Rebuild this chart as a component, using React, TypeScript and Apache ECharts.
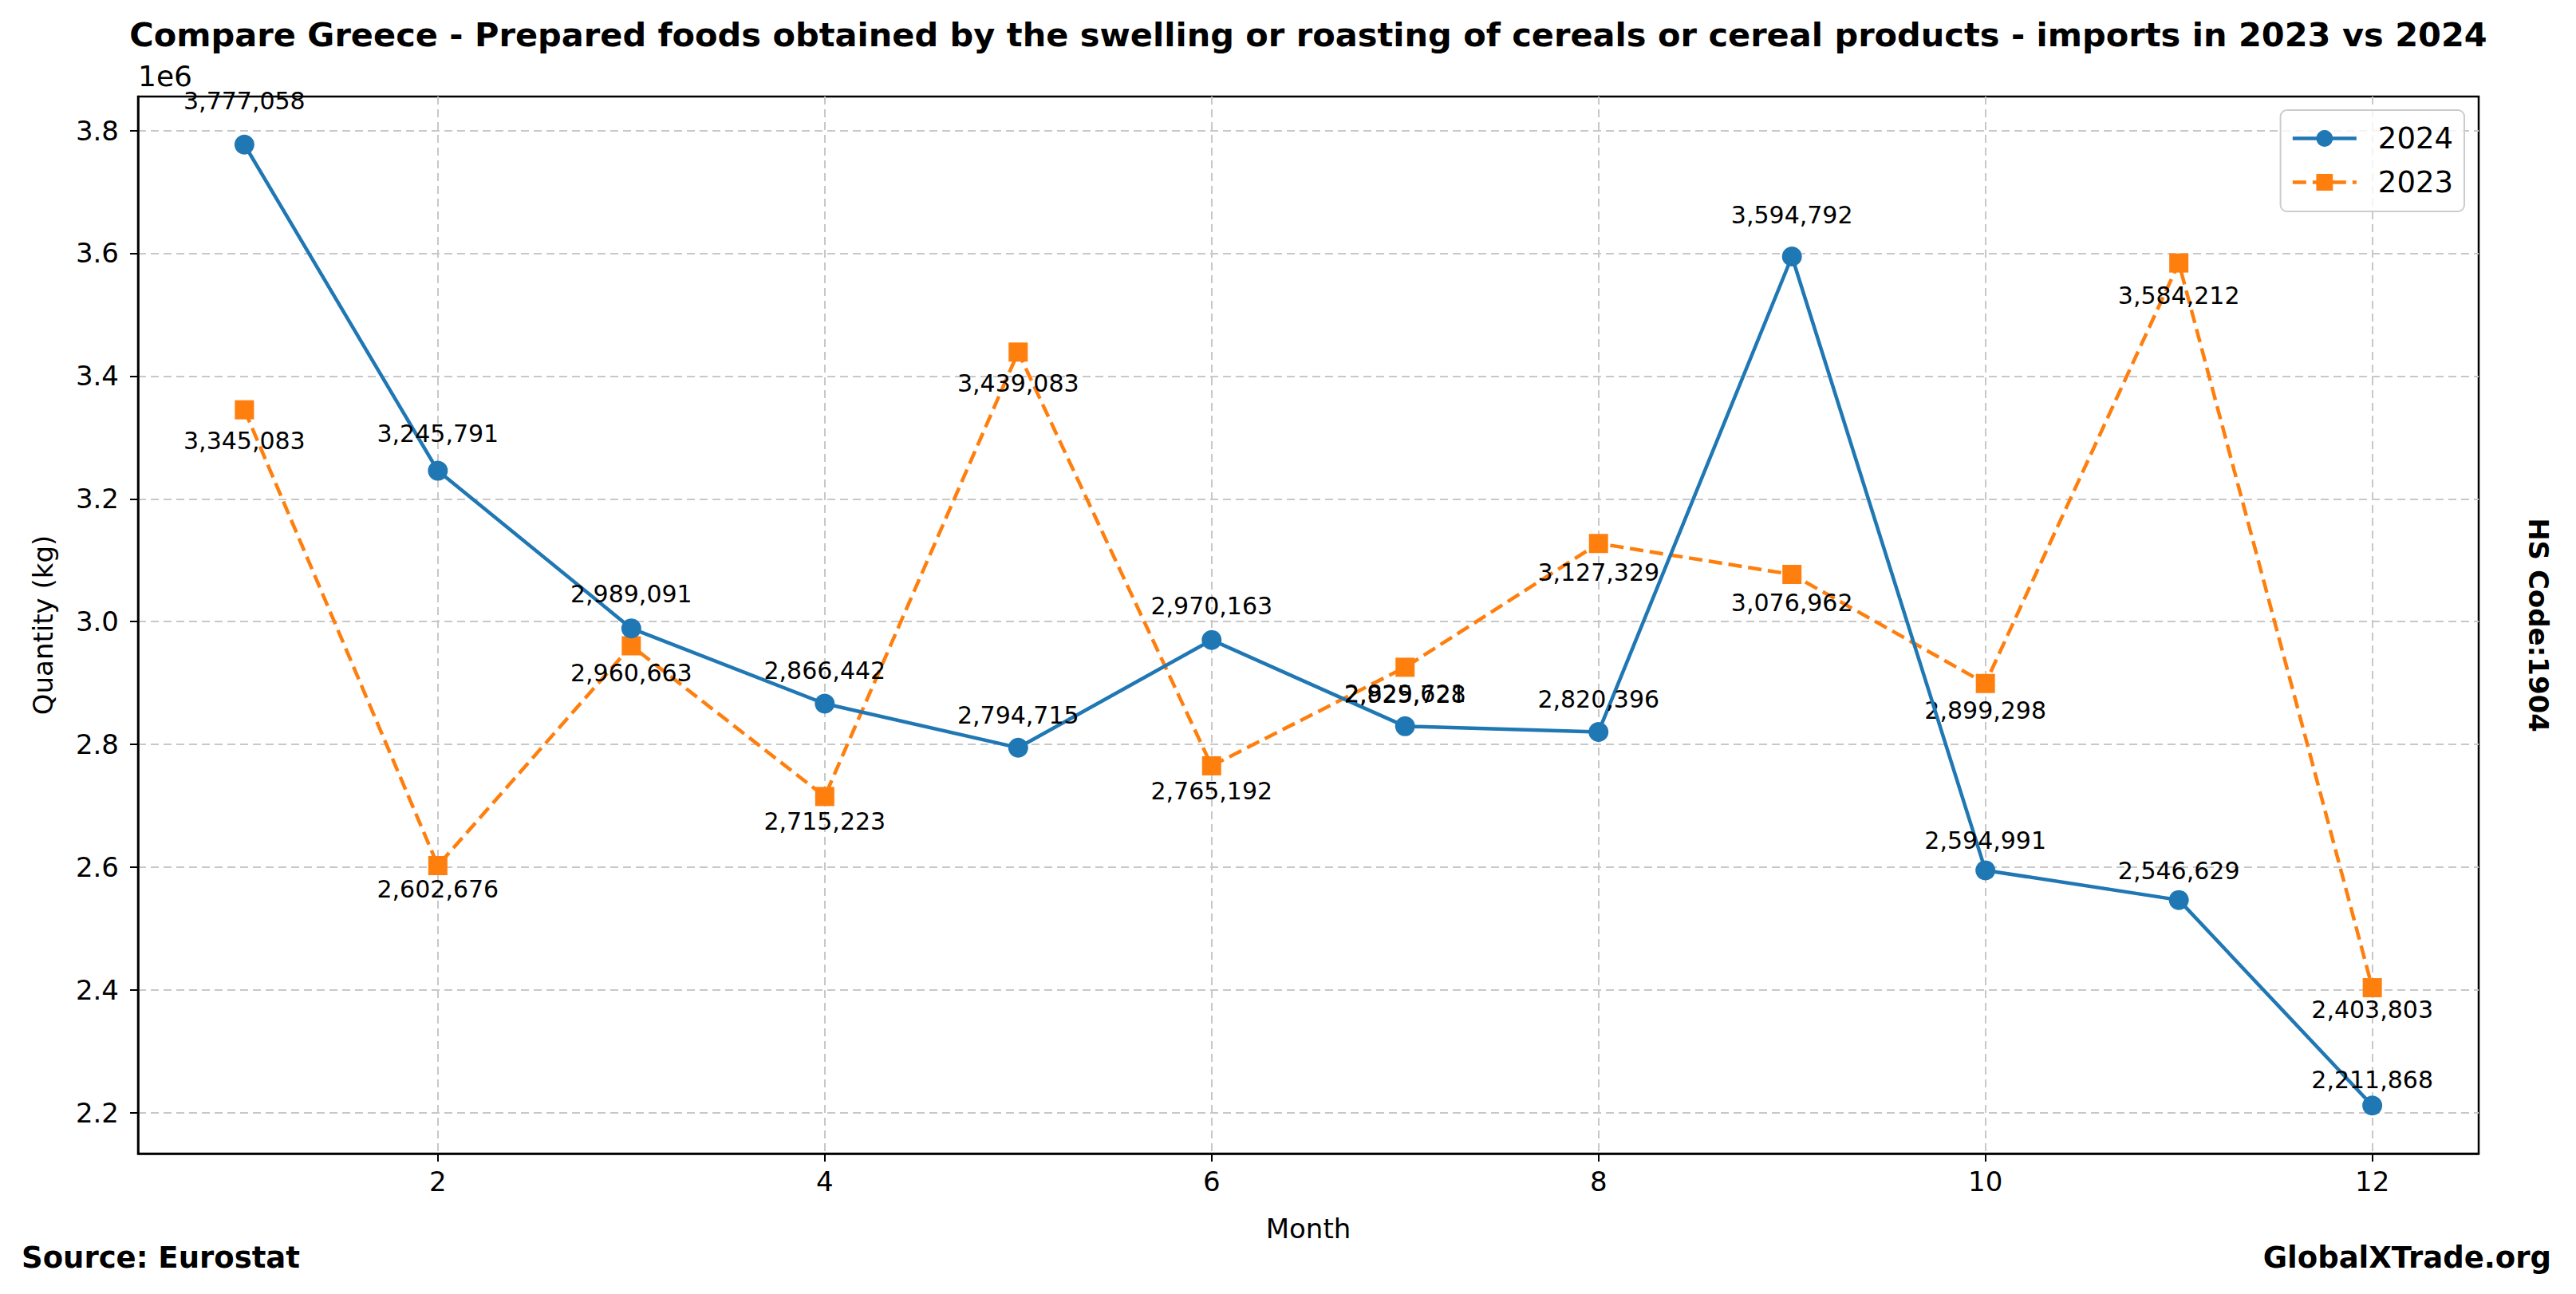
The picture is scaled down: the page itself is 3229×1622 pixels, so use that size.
import React, { useEffect, useRef } from "react";
import * as echarts from "echarts";

const months = [1, 2, 3, 4, 5, 6, 7, 8, 9, 10, 11, 12];
const values2024 = [3777058, 3245791, 2989091, 2866442, 2794715, 2970163, 2829621, 2820396, 3594792, 2594991, 2546629, 2211868];
const values2023 = [3345083, 2602676, 2960663, 2715223, 3439083, 2765192, 2925728, 3127329, 3076962, 2899298, 3584212, 2403803];
const xTicks = [2, 4, 6, 8, 10, 12];
const yTicks = [2200000, 2400000, 2600000, 2800000, 3000000, 3200000, 3400000, 3600000, 3800000];

const titleText = "Compare Greece - Prepared foods obtained by the swelling or roasting of cereals or cereal products - imports in 2023 vs 2024";

const FONT = "DejaVu Sans";
const BLUE = "#1f77b4";
const ORANGE = "#ff7f0e";

const fmt = (v: number) => v.toLocaleString("en-US");

export default function App() {
  const ref = useRef<HTMLDivElement>(null);
  useEffect(() => {
    if (!ref.current) return;
    const chart = echarts.init(ref.current, null, { renderer: "svg" });
    const all = values2024.concat(values2023);
    const dMin = Math.min(...all);
    const dMax = Math.max(...all);
    const yr = dMax - dMin;
    const yMin = dMin - 0.05 * yr;
    const yMax = dMax + 0.05 * yr;
    const xr = months[months.length - 1] - months[0];
    const xMin = months[0] - 0.05 * xr;
    const xMax = months[months.length - 1] + 0.05 * xr;

    const gridLeft = 173, gridRight = 122, gridTop = 121, gridBottom = 176;
    const W = 3229, H = 1622;
    const cx = (gridLeft + (W - gridRight)) / 2;
    const cy = (gridTop + (H - gridBottom)) / 2;

    const labelStyle = { show: true, position: "inside", fontSize: 30, color: "#000", fontFamily: FONT };

    chart.setOption({
      animation: false,
      backgroundColor: "#ffffff",
      textStyle: { fontFamily: FONT },
      grid: {
        left: gridLeft, right: gridRight, top: gridTop, bottom: gridBottom,
        show: true, borderColor: "#000", borderWidth: 2.5, backgroundColor: "transparent",
      },
      xAxis: {
        type: "value", min: xMin, max: xMax,
        axisLine: { show: true, lineStyle: { color: "#000", width: 2.5 } },
        axisTick: { show: true, customValues: xTicks, length: 10, lineStyle: { color: "#000", width: 2 } },
        axisLabel: { customValues: xTicks, fontSize: 34, color: "#000", margin: 18, fontFamily: FONT },
        splitLine: { show: true, lineStyle: { color: "#c8c8c8", width: 2, type: [10, 6] } },
      },
      yAxis: {
        type: "value", min: yMin, max: yMax, splitNumber: 9,
        axisLine: { show: true, lineStyle: { color: "#000", width: 2.5 } },
        axisTick: { show: true, customValues: yTicks, length: 10, lineStyle: { color: "#000", width: 2 } },
        axisLabel: {
          customValues: yTicks, fontSize: 34, color: "#000", margin: 24, fontFamily: FONT,
          formatter: (v: number) => (v / 1e6).toFixed(1),
        },
        splitLine: { show: true, lineStyle: { color: "#c8c8c8", width: 2, type: [10, 6] } },
      },
      legend: {
        show: true, orient: "vertical", right: 140, top: 138,
        data: ["2024", "2023"],
        itemWidth: 80, itemHeight: 26, itemGap: 18,
        padding: [17, 14, 18, 13],
        borderColor: "#cccccc", borderWidth: 2, borderRadius: 8,
        backgroundColor: "rgba(255,255,255,0.8)",
        lineStyle: { width: 4.5 },
        textStyle: { fontSize: 37, color: "#000", fontFamily: FONT, padding: [0, 0, 0, 22] },
      },
      series: [
        {
          name: "2024", type: "line",
          data: months.map((m, i) => ({
            value: [m, values2024[i]],
            label: { offset: [0, -14.4 * values2024[i] / 1e6] },
          })),
          symbol: "circle", symbolSize: 25,
          lineStyle: { color: BLUE, width: 4.5 },
          itemStyle: { color: BLUE },
          label: { ...labelStyle, formatter: (p: any) => fmt(p.value[1]) },
          z: 3,
        },
        {
          name: "2023", type: "line",
          data: months.map((m, i) => ({
            value: [m, values2023[i]],
            label: { offset: [0, 11.5 * values2023[i] / 1e6] },
          })),
          symbol: "rect", symbolSize: 24,
          lineStyle: { color: ORANGE, width: 4.5, type: [17, 8] },
          itemStyle: { color: ORANGE },
          label: { ...labelStyle, formatter: (p: any) => fmt(p.value[1]) },
          z: 2,
        },
      ],
      graphic: [
        {
          type: "text", x: cx, y: 43,
          style: { text: titleText, fontSize: 41.5, fontWeight: "bold", fill: "#000", fontFamily: FONT, textAlign: "center", textVerticalAlign: "middle" },
        },
        {
          type: "text", x: gridLeft, y: 95,
          style: { text: "1e6", fontSize: 36, fill: "#000", fontFamily: FONT, textAlign: "left", textVerticalAlign: "middle" },
        },
        {
          type: "text", x: 54, y: cy, rotation: Math.PI / 2,
          style: { text: "Quantity (kg)", fontSize: 34, fill: "#000", fontFamily: FONT, textAlign: "center", textVerticalAlign: "middle" },
        },
        {
          type: "text", x: cx, y: 1540,
          style: { text: "Month", fontSize: 34, fill: "#000", fontFamily: FONT, textAlign: "center", textVerticalAlign: "middle" },
        },
        {
          type: "text", x: 3182, y: cy, rotation: -Math.PI / 2,
          style: { text: "HS Code:1904", fontSize: 34, fontWeight: "bold", fill: "#000", fontFamily: FONT, textAlign: "center", textVerticalAlign: "middle" },
        },
        {
          type: "text", x: 27, y: 1576,
          style: { text: "Source: Eurostat", fontSize: 37, fontWeight: "bold", fill: "#000", fontFamily: FONT, textAlign: "left", textVerticalAlign: "middle" },
        },
        {
          type: "text", x: 3198, y: 1576,
          style: { text: "GlobalXTrade.org", fontSize: 37, fontWeight: "bold", fill: "#000", fontFamily: FONT, textAlign: "right", textVerticalAlign: "middle" },
        },
      ],
    });
    return () => chart.dispose();
  }, []);
  return (
    <div
      ref={ref}
      style={{ position: "fixed", left: 0, top: 0, width: "3229px", height: "1622px", background: "#fff" }}
    />
  );
}
